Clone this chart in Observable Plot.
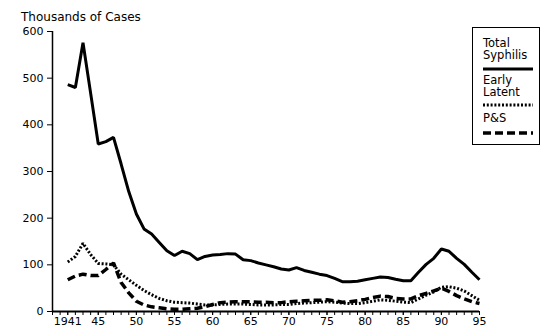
<!DOCTYPE html>
<html>
<head>
<meta charset="utf-8">
<script src="https://cdn.jsdelivr.net/npm/d3@7"></script>
<script src="https://cdn.jsdelivr.net/npm/@observablehq/plot@0.6"></script>
<style>
  body { margin: 0; background: #fff; font-family: "DejaVu Sans", sans-serif; }
  #wrap { position: relative; width: 549px; height: 332px; }
  #title { position: absolute; left: 21px; top: 10px; font-size: 12px; line-height: 14px; color: #000; }
  #legend { position: absolute; left: 472px; top: 27px; width: 66px; height: 116px; border: 1px solid #000; font-size: 11.5px; line-height: 12px; color: #000; }
  #legend .lbl { position: absolute; left: 10px; white-space: pre-line; }
  #legend svg { position: absolute; left: 10px; }
</style>
</head>
<body>
<div id="wrap">
  <div id="title">Thousands of Cases</div>
  <div id="legend"></div>
</div>
<script>
const years = d3.range(1941, 1996);
const totalSyphilis = [486,480,576,468,359,364,373,316,257,209,177,166,148,130,120,129,124,111,118,121,122,124,123,111,109,104,100,96,91,89,94,88,84,80,77,71,64,64,65,68,71,74,73,69,66,66,84,101,114,134,129,114,101,84,68];
const earlyLatent = [106,118,146,122,103,102,100,80,68,56,45,36,28,23,20,19,18,16,14,14,15,16,16,16,15,14,14,14,15,15,17,18,19,20,21,20,18,17,17,19,22,25,24,22,20,19,27,35,42,52,53,50,44,34,24];
const psSyphilis = [68,76,80,77,77,90,104,62,40,22,14,10,8,6,5,5,6,7,10,15,19,20,21,21,21,20,20,19,19,21,22,23,24,24,25,23,20,21,23,26,30,33,32,28,27,27,34,39,44,50,43,34,27,21,17];
const seriesNames = ["Total Syphilis", "Early Latent", "P&S"];
const legendLabels = ["Total\nSyphilis", "Early\nLatent", "P&S"];
const yTicks = [0, 100, 200, 300, 400, 500, 600];
const xTickYears = [1941, 1945, 1950, 1955, 1960, 1965, 1970, 1975, 1980, 1985, 1990, 1995];
const xTickLabels = ["1941", "45", "50", "55", "60", "65", "70", "75", "80", "85", "90", "95"];
const minorYears = d3.range(1939, 1996);

const styles = [
  {strokeWidth: 3, dash: null},
  {strokeWidth: 3, dash: "2,1.8"},
  {strokeWidth: 3.5, dash: "8,4"}
];
const seriesData = [totalSyphilis, earlyLatent, psSyphilis];
const rows = [];
seriesData.forEach((vals, s) => vals.forEach((v, i) => rows.push({series: seriesNames[s], year: years[i], value: v})));

const labelMap = new Map(xTickYears.map((y, i) => [y, xTickLabels[i]]));

const chart = Plot.plot({
  width: 549,
  height: 332,
  marginLeft: 52,
  marginRight: 70,
  marginTop: 31,
  marginBottom: 21,
  style: {fontFamily: "DejaVu Sans, sans-serif", fontSize: "11px", color: "#000", background: "transparent"},
  x: {domain: [1939, 1995]},
  y: {domain: [0, 600]},
  marks: [
    Plot.axisY({ticks: yTicks, tickSize: 5, tickPadding: 4, label: null, fontSize: 11}),
    Plot.axisX({ticks: minorYears, tickSize: 4, tickFormat: () => "", label: null}),
    Plot.axisX({ticks: xTickYears, tickSize: 4, tickPadding: 2, tickFormat: d => labelMap.get(d), label: null, fontSize: 11}),
    Plot.ruleX([1939], {stroke: "#000", strokeWidth: 1.5}),
    Plot.ruleY([0], {stroke: "#000", strokeWidth: 2}),
    ...seriesNames.map((name, s) => Plot.lineY(rows.filter(r => r.series === name), {
      x: "year", y: "value", stroke: "#000",
      strokeWidth: styles[s].strokeWidth,
      strokeDasharray: styles[s].dash,
      strokeLinejoin: "miter", strokeLinecap: "butt"
    }))
  ]
});
document.getElementById("wrap").prepend(chart);

// Legend
const legend = document.getElementById("legend");
const textTops = [9, 46, 84];
const lineTops = [38, 74, 102];
legendLabels.forEach((t, s) => {
  const d = document.createElement("div");
  d.className = "lbl";
  d.style.top = textTops[s] + "px";
  d.textContent = t;
  legend.appendChild(d);
  const svg = d3.create("svg").attr("width", 50).attr("height", 6).style("top", lineTops[s] + "px");
  svg.append("line").attr("x1", 0).attr("x2", 50).attr("y1", 3).attr("y2", 3)
    .attr("stroke", "#000").attr("stroke-width", styles[s].strokeWidth)
    .attr("stroke-dasharray", styles[s].dash);
  legend.appendChild(svg.node());
});
</script>
</body>
</html>
